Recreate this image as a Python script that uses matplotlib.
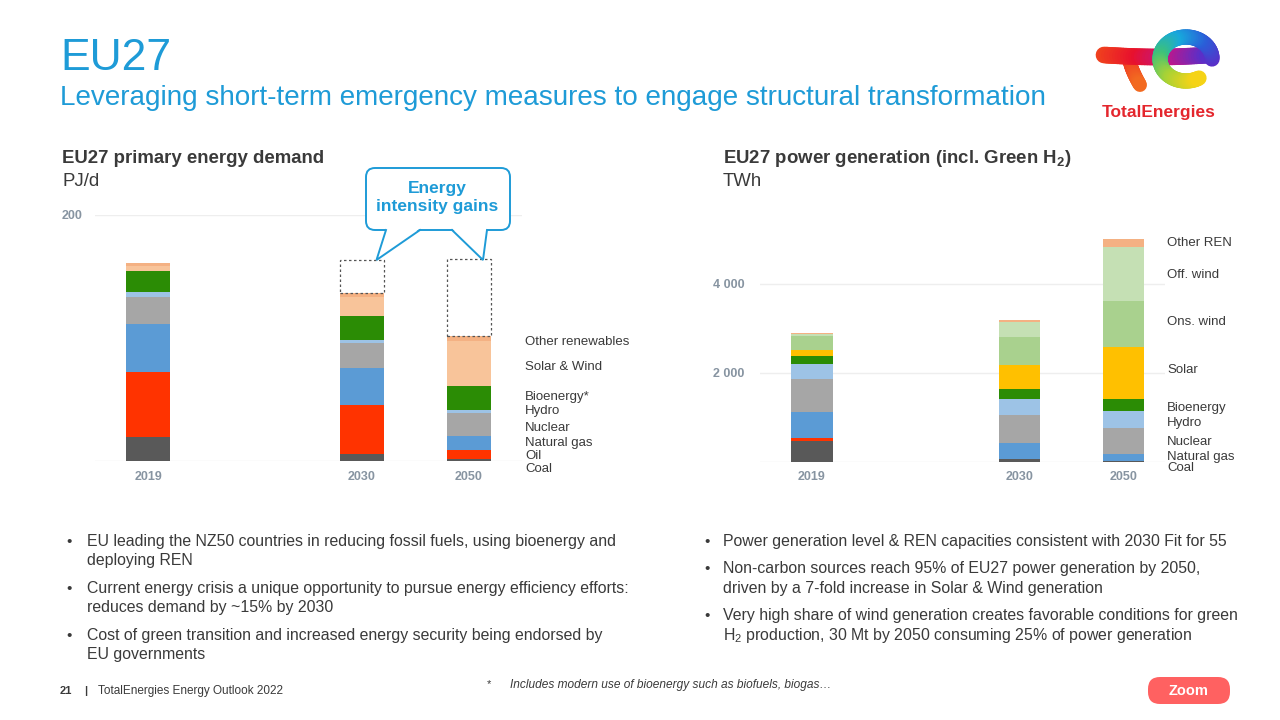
import numpy as np
import matplotlib
matplotlib.use("Agg")
import matplotlib.pyplot as plt
from matplotlib.patches import FancyBboxPatch, Polygon, Rectangle
from matplotlib.collections import LineCollection
from matplotlib.colors import LinearSegmentedColormap

plt.rcParams['font.family'] = ['Liberation Sans', 'DejaVu Sans']
plt.rcParams['mathtext.fontset'] = 'custom'
plt.rcParams['mathtext.rm'] = 'Liberation Sans'
plt.rcParams['mathtext.bf'] = 'Liberation Sans:bold'

# ---- data ----
years = ['2019', '2030', '2050']

# primary energy demand, PJ/d
demand_labels = ['Coal', 'Oil', 'Natural gas', 'Nuclear', 'Hydro', 'Bioenergy*',
                 'Solar & Wind', 'Other renewables']
demand_coal = [19.3, 5.7, 1.4]
demand_oil = [53.1, 39.6, 7.6]
demand_gas = [38.8, 30.6, 11.7]
demand_nuclear = [22.5, 19.8, 18.2]
demand_hydro = [3.3, 2.7, 2.7]
demand_bio = [17.1, 19.8, 19.0]
demand_solarwind = [4.5, 15.4, 36.6]
demand_other = [2.6, 2.7, 4.1]
# demand level without energy intensity gains (dotted boxes), 2030 and 2050
demand_no_gains = [163.4, 164.0]

# power generation, TWh
power_labels = ['Coal', 'Oil', 'Natural gas', 'Nuclear', 'Hydro', 'Bioenergy',
                'Solar', 'Ons. wind', 'Off. wind', 'Other REN']
power_coal = [472, 52, 10]
power_oil = [60, 0, 0]
power_gas = [584, 375, 172]
power_nuclear = [749, 614, 584]
power_hydro = [337, 360, 375]
power_bio = [172, 225, 277]
power_solar = [135, 539, 1154]
power_onshore = [315, 644, 1049]
power_offshore = [45, 337, 1214]
power_other = [15, 45, 165]

left_bullets = [
    ["EU leading the NZ50 countries in reducing fossil fuels, using bioenergy and",
     "deploying REN"],
    ["Current energy crisis a unique opportunity to pursue energy efficiency efforts:",
     "reduces demand by ~15% by 2030"],
    ["Cost of green transition and increased energy security being endorsed by",
     "EU governments"],
]
right_bullets = [
    ["Power generation level & REN capacities consistent with 2030 Fit for 55"],
    ["Non-carbon sources reach 95% of EU27 power generation by 2050,",
     "driven by a 7-fold increase in Solar & Wind generation"],
    ["Very high share of wind generation creates favorable conditions for green",
     r"H$_2$ production, 30 Mt by 2050 consuming 25% of power generation"],
]

# ---- style ----
BLUE = '#1E9BD7'
TXT = '#3A3A3A'
TICK = '#8794A1'
GRID = '#EEEEEE'
demand_colors = ['#595959', '#FF3300', '#5B9BD5', '#A6A6A6', '#9DC3E6', '#2B8C05',
                 '#F8C49A', '#F4B183']
power_colors = ['#595959', '#FF3300', '#5B9BD5', '#A6A6A6', '#9DC3E6', '#2B8C05',
                '#FFC000', '#A9D18E', '#C5E0B4', '#F4B183']
xpos = [0, 2, 3]   # 2019, 2030, 2050 spaced roughly by time

fig = plt.figure(figsize=(12.8, 7.2), dpi=100)
W, H = 1280, 720


def box(x0, y0, x1, y1):
    return [x0 / W, 1 - y1 / H, (x1 - x0) / W, (y1 - y0) / H]


def stacked(ax, series, colors, width):
    bottom = np.zeros(len(years))
    for vals, c in zip(series, colors):
        ax.bar(xpos, vals, width, bottom=bottom, color=c, linewidth=0, zorder=3)
        bottom += np.array(vals, dtype=float)
    return bottom


def style(ax):
    for s in ax.spines.values():
        s.set_visible(False)
    ax.tick_params(length=0, labelsize=9, labelcolor=TICK)
    ax.grid(axis='y', color=GRID, lw=1, zorder=0)
    ax.set_xticks(xpos)
    ax.set_xticklabels(years)
    for lab in ax.get_xticklabels() + ax.get_yticklabels():
        lab.set_fontweight('bold')


# ---- left chart ----
ax1 = fig.add_axes(box(95, 215, 522, 461))
dem = [demand_coal, demand_oil, demand_gas, demand_nuclear, demand_hydro,
       demand_bio, demand_solarwind, demand_other]
tot1 = stacked(ax1, dem, demand_colors, 0.41)
ax1.set_xlim(-0.5, 3.5)
ax1.set_ylim(0, 200)
ax1.set_yticks([0, 200])
ax1.set_yticklabels(['', '200'])
style(ax1)
ax1.tick_params(axis='y', pad=9)
ax1.tick_params(axis='x', pad=7)
for i, top in zip([1, 2], demand_no_gains):
    ax1.add_patch(Rectangle((xpos[i] - 0.205, tot1[i]), 0.41, top - tot1[i],
                            fill=False, ls=(0, (2, 2)), lw=0.9, ec='#555555',
                            zorder=4, clip_on=False))

# ---- right chart ----
ax2 = fig.add_axes(box(760, 230.4, 1165, 461.7))
pwr = [power_coal, power_oil, power_gas, power_nuclear, power_hydro, power_bio,
       power_solar, power_onshore, power_offshore, power_other]
stacked(ax2, pwr, power_colors, 0.4)
ax2.set_xlim(-0.5, 3.4)
ax2.set_ylim(0, 5200)
ax2.set_yticks([0, 2000, 4000])
ax2.set_yticklabels(['', '2 000', '4 000'])
style(ax2)
ax2.tick_params(axis='y', pad=11)
ax2.tick_params(axis='x', pad=7)

# ---- overlay in pixel coordinates ----
ov = fig.add_axes([0, 0, 1, 1])
ov.set_xlim(0, W)
ov.set_ylim(H, 0)
ov.axis('off')
ov.patch.set_alpha(0)

ov.text(60, 70, 'EU27', fontsize=32, color=BLUE, va='baseline')
ov.text(60, 105, 'Leveraging short-term emergency measures to engage structural transformation',
        fontsize=20.1, color=BLUE, va='baseline')

ov.text(62, 163, 'EU27 primary energy demand', fontsize=13.4, weight='bold', color=TXT, va='baseline')
ov.text(62, 186, 'PJ/d', fontsize=13.4, color=TXT, va='baseline')
ov.text(723, 163, r'EU27 power generation (incl. Green H$_\mathbf{2}$)', fontsize=13.4,
        weight='bold', color=TXT, va='baseline')
ov.text(723, 186, 'TWh', fontsize=13.4, color=TXT, va='baseline')

# series labels beside the bars
left_label_y = [469, 456, 443.3, 428.3, 410.7, 397.3, 366.7, 341.7]
for lab, y in zip(demand_labels, left_label_y):
    ov.text(525, y, lab, fontsize=9.5, color=TXT, va='center')
right_names = [l for l in power_labels if l != 'Oil']
right_label_y = [468.3, 456.7, 441.7, 423.3, 407.7, 370, 322.3, 275, 242.7]
for lab, y in zip(right_names, right_label_y):
    ov.text(1167, y, lab, fontsize=9.5, color=TXT, va='center')

# callout
ov.add_patch(FancyBboxPatch((366, 168), 144, 62, boxstyle='round,pad=0,rounding_size=9',
                            fc='white', ec=BLUE, lw=1.4, zorder=5))
for base, tip in [((386, 420), (376.5, 260)), ((452, 487), (483, 260))]:
    ov.add_patch(Polygon([(base[0], 228.5), tip, (base[1], 228.5)], closed=True,
                         fc='white', ec='none', zorder=6))
    ov.plot([base[0], tip[0], base[1]], [230, tip[1], 230], color=BLUE, lw=1.4,
            zorder=7, solid_joinstyle='miter')
ov.text(437, 189, 'Energy', fontsize=12.5, weight='bold', color=BLUE,
        ha='center', va='center', zorder=8)
ov.text(437, 207, 'intensity gains', fontsize=12.5, weight='bold', color=BLUE,
        ha='center', va='center', zorder=8)


# bullets
def bullets(x, gap, first_y, items):
    y = first_y
    for lines in items:
        ov.text(x, y + 5, '•', fontsize=11, color=TXT, va='baseline')
        for ln in lines:
            ov.text(x + gap, y + 5, ln, fontsize=11.4, color=TXT, va='baseline')
            y += 19.3
        y += 27.5 - 19.3


bullets(66, 21, 541, left_bullets)
bullets(704, 19, 541, right_bullets)

# footer
ov.text(60, 694, '21', fontsize=8, weight='bold', color=TXT, va='baseline')
ov.text(84, 694, '|', fontsize=8, weight='bold', color=TXT, va='baseline')
ov.text(98, 694, 'TotalEnergies Energy Outlook 2022', fontsize=8.5, color=TXT, va='baseline')
ov.text(487, 687, '*', fontsize=8, color=TXT, va='baseline')
ov.text(510, 688, 'Includes modern use of bioenergy such as biofuels, biogas…', fontsize=8.6,
        style='italic', color=TXT, va='baseline')
ov.add_patch(FancyBboxPatch((1148, 677), 82, 27, boxstyle='round,pad=0,rounding_size=12',
                            fc='#FF6161', ec='none'))
ov.text(1189, 691, 'Zoom', fontsize=10.5, weight='bold', color='white', ha='center', va='center')


# logo
def grad_line(xs, ys, cmap, lw):
    pts = np.column_stack([xs, ys]).reshape(-1, 1, 2)
    segs = np.concatenate([pts[:-1], pts[1:]], axis=1)
    lc = LineCollection(segs, cmap=cmap, lw=lw, capstyle='round')
    lc.set_array(np.linspace(0, 1, len(segs)))
    ov.add_collection(lc)


stem_cmap = LinearSegmentedColormap.from_list('stem', ['#EE2A24', '#F26A21'])
t = np.linspace(0, 1, 30)
grad_line(1129 + 11 * t ** 1.5, 57 + 28 * t, stem_cmap, 10)
bar_cmap = LinearSegmentedColormap.from_list('bar', ['#F0401E', '#E8112D', '#C0178A', '#5A2FC8'])
grad_line(np.linspace(1104, 1210, 40), 55 + 2 * np.sin(np.linspace(0, np.pi, 40)), bar_cmap, 12)
ring_cmap = LinearSegmentedColormap.from_list('ring', ['#5A2FC8', '#2A5ED8', '#18A8DC',
                                                       '#3DC27A', '#A8D236', '#F5D316'])
a = np.linspace(0, np.radians(300), 80)
grad_line(1186 + 26 * np.cos(a), 59 - 22 * np.sin(a), ring_cmap, 11)
ov.text(1159, 117, 'TotalEnergies', fontsize=12.5, weight='bold', color='#E4262D',
        ha='center', va='baseline')

fig.savefig('out.png', dpi=100)
